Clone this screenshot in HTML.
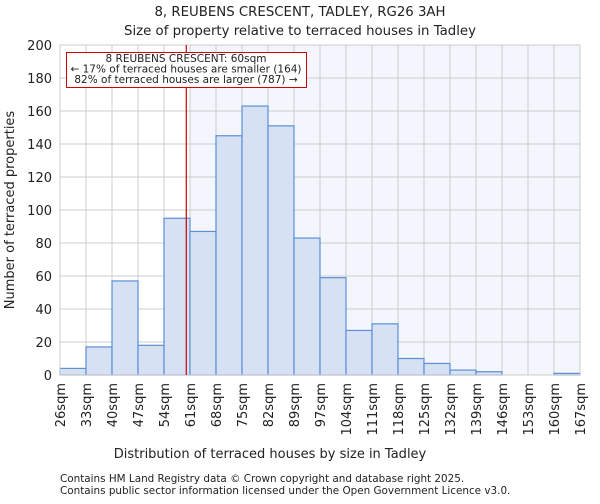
<!DOCTYPE html>
<html><head><meta charset="utf-8"><style>
body{margin:0;background:#fff;font-family:"DejaVu Sans","Liberation Sans",sans-serif;}
svg text{font-family:"DejaVu Sans","Liberation Sans",sans-serif;fill:#222;}
</style></head><body>
<svg id="chart" width="600" height="500" xmlns="http://www.w3.org/2000/svg">
<text x="300" y="16" text-anchor="middle" font-size="13.3">8, REUBENS CRESCENT, TADLEY, RG26 3AH</text>
<text x="300" y="35" text-anchor="middle" font-size="13.3">Size of property relative to terraced houses in Tadley</text>
<g id="plot"></g>
<text x="270" y="458" text-anchor="middle" font-size="13">Distribution of terraced houses by size in Tadley</text>
<text transform="translate(14,210) rotate(-90)" text-anchor="middle" font-size="13">Number of terraced properties</text>
<text x="60" y="482" font-size="10.4" fill="#555">Contains HM Land Registry data © Crown copyright and database right 2025.</text>
<text x="60" y="494" font-size="10.4" fill="#555">Contains public sector information licensed under the Open Government Licence v3.0.</text>
</svg>
<script>
const binLabels=["26sqm","33sqm","40sqm","47sqm","54sqm","61sqm","68sqm","75sqm","82sqm","89sqm","97sqm","104sqm","111sqm","118sqm","125sqm","132sqm","139sqm","146sqm","153sqm","160sqm","167sqm"];
const counts=[4,17,57,18,95,87,145,163,151,83,59,27,31,10,7,3,2,0,0,1];
const yTicks=[0,20,40,60,80,100,120,140,160,180,200];
const markerBinPos=[4.857];
const NS="http://www.w3.org/2000/svg";
const X0=60,X1=580,Y0=375,Y1=45;
const xs=i=>X0+i*(X1-X0)/counts.length;
const ys=v=>Y0-(v/200)*(Y0-Y1);
const g=document.getElementById('plot');
function el(t,a){const e=document.createElementNS(NS,t);for(const k in a)e.setAttribute(k,a[k]);g.appendChild(e);return e;}
const mx=xs(markerBinPos[0]);
let e=el('rect',{x:mx+4,y:Y1,width:X1-mx-4,height:Y0-Y1,fill:'#f3f6fd'});


for(let i=0;i<=counts.length;i++){e=el('line',{x1:xs(i),x2:xs(i),y1:Y1,y2:Y0,stroke:'#ccc','stroke-width':1});

}
yTicks.forEach(v=>{e=el('line',{x1:X0,x2:X1,y1:ys(v),y2:ys(v),stroke:'#ccc','stroke-width':1});


e=el('text',{x:X0-8,y:ys(v)+5,'text-anchor':'end','font-size':13});e.textContent=v;

});
counts.forEach((c,i)=>{e=el('rect',{x:xs(i),y:ys(c),width:xs(i+1)-xs(i),height:Y0-ys(c),fill:'#d6e1f3',stroke:'#5b8fd6','stroke-width':1.2});

});
binLabels.forEach((l,i)=>{e=el('text',{transform:`translate(${xs(i)+5},${Y0+8}) rotate(-90)`,'text-anchor':'end','font-size':13});e.textContent=l;

});
e=el('rect',{x:X0,y:Y1,width:X1-X0,height:Y0-Y1,fill:'none',stroke:'#ccc','stroke-width':1});


e=el('line',{x1:mx,x2:mx,y1:Y1,y2:Y0,stroke:'#cc0000','stroke-width':1.2});


e=el('rect',{x:66.5,y:52.5,width:240,height:35,fill:'#fff',stroke:'#cc0000','stroke-width':1});


["8 REUBENS CRESCENT: 60sqm","← 17% of terraced houses are smaller (164)","82% of terraced houses are larger (787) →"].forEach((t,i)=>{
e=el('text',{x:186,y:62+i*10.5,'text-anchor':'middle','font-size':10.5});e.textContent=t;

});
</script>
</body></html>
